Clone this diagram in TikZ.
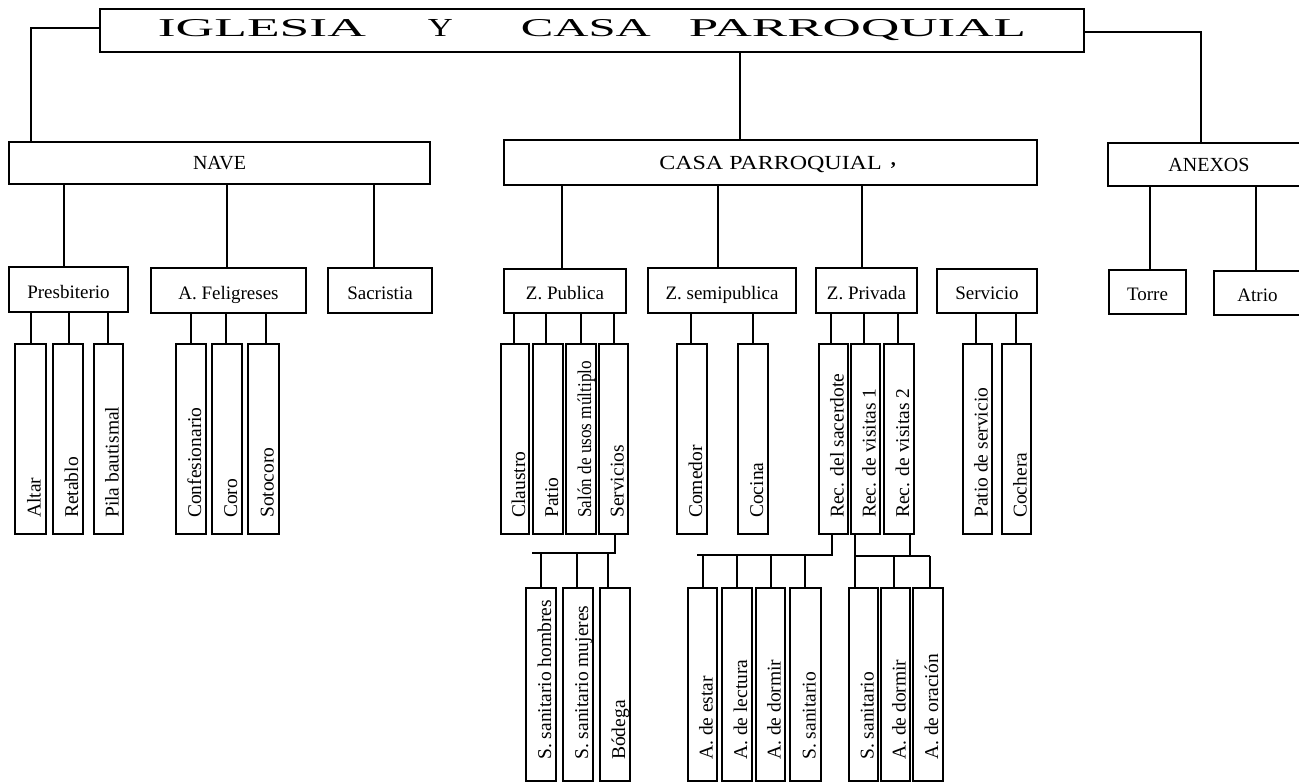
\documentclass[tikz,border=0pt]{standalone}
\usepackage{fontspec}
\usepackage{graphicx}
\setmainfont{Liberation Serif}
\usetikzlibrary{calc}
\tikzset{
  bx/.style={draw, line width=1.2pt, rectangle, inner sep=0pt, outer sep=0pt},
  lvone/.style={bx, font=\fontsize{20}{24}\selectfont, text height=14pt, text depth=0pt},
  lvtwo/.style={bx, font=\fontsize{19}{23}\selectfont, text height=18pt, text depth=0pt},
  vtext/.style={rotate=90, anchor=base west, inner sep=0pt, font=\fontsize{19.5}{23}\selectfont},
  conn/.style={line width=1.1pt},
}
% style name x1 y1 x2 y2 text
\newcommand\hb[7]{\node[#1, minimum width={(#5)-(#3)}, minimum height={(#6)-(#4)}] (#2) at ({((#3)+(#5))/2},{((#4)+(#6))/2}) {#7};}
% name x1 y1 x2 y2 gap text
\newcommand\vb[7]{\hb{bx}{#1}{#2}{#3}{#4}{#5}{}\node[vtext] (#1t) at ($(#1.south)+(10,-#6)$) {#7};}
\begin{document}
\begin{tikzpicture}[x=1pt,y=-1pt]
\fill[white] (0,0) rectangle (1299,783);
\useasboundingbox (0,0) rectangle (1299,783);

% title
\hb{bx}{title}{100}{9}{1084}{52}{\raisebox{2.5pt}{\resizebox{208pt}{17pt}{IGLESIA}\hspace{62pt}\resizebox{25pt}{17pt}{Y}\hspace{68pt}\resizebox{130pt}{17pt}{CASA}\hspace{38pt}\resizebox{337pt}{17pt}{PARROQUIAL}}}

% level 1
\hb{lvone}{nave}{9}{142}{430}{184}{NAVE}
\hb{lvone}{casa}{504}{140}{1037}{185}{\scalebox{1.2}[1]{CASA PARROQUIAL}\rlap{\hspace{9pt}\raisebox{4pt}{\textbf{,}}}}
\hb{lvone}{anexos}{1108}{143}{1310}{186}{ANEXOS}

% level 2
\hb{lvtwo}{presb}{9}{267}{128}{312}{Presbiterio}
\hb{lvtwo}{feli}{151}{268}{306}{313}{A. Feligreses}
\hb{lvtwo}{sacr}{328}{268}{432}{313}{Sacristia}
\hb{lvtwo}{zpub}{504}{269}{626}{313}{Z. Publica}
\hb{lvtwo}{zsemi}{648}{268}{796}{313}{Z. semipublica}
\hb{lvtwo}{zpriv}{816}{268}{917}{313}{Z. Privada}
\hb{lvtwo}{servicio}{937}{269}{1037}{313}{Servicio}
\hb{lvtwo}{torre}{1109}{270}{1186}{314}{Torre}
\hb{lvtwo}{atrio}{1214}{271}{1301}{315}{Atrio}

% level 3
\vb{altar}{15}{344}{46}{534}{16}{Altar}
\vb{retablo}{53}{344}{83}{534}{16}{Retablo}
\vb{pila}{94}{344}{123}{534}{16}{Pila bautismal}
\vb{conf}{176}{344}{206}{534}{16}{Confesionario}
\vb{coro}{212}{344}{242}{534}{16}{Coro}
\vb{soto}{248}{344}{279}{534}{16}{Sotocoro}
\vb{claustro}{501}{344}{529}{534}{16}{Claustro}
\vb{patio}{533}{344}{563}{534}{16}{Patio}
\vb{salon}{566}{344}{596}{534}{16}{\scalebox{0.88}[1]{Salón de usos múltiplo}}
\vb{servicios}{599}{344}{628}{534}{16}{Servicios}
\vb{comedor}{677}{344}{707}{534}{16}{Comedor}
\vb{cocina}{738}{344}{768}{534}{16}{Cocina}
\vb{sacerdote}{819}{344}{848}{534}{16}{Rec. del sacerdote}
\vb{visA}{851}{344}{880}{534}{16}{Rec. de visitas 1}
\vb{visB}{884}{344}{914}{534}{16}{Rec. de visitas 2}
\vb{patioserv}{963}{344}{992}{534}{16}{Patio de servicio}
\vb{cochera}{1002}{344}{1031}{534}{16}{Cochera}

% level 4
\vb{hombres}{526}{588}{556}{781}{21}{S. sanitario hombres}
\vb{mujeres}{563}{588}{593}{781}{21}{S. sanitario mujeres}
\vb{bodega}{600}{588}{630}{781}{21}{Bódega}
\vb{estar}{688}{588}{717}{781}{21}{A. de estar}
\vb{lectura}{722}{588}{752}{781}{21}{A. de lectura}
\vb{dormirA}{756}{588}{785}{781}{21}{A. de dormir}
\vb{sanitA}{790}{588}{821}{781}{21}{S. sanitario}
\vb{sanitB}{849}{588}{878}{781}{21}{S. sanitario}
\vb{dormirB}{881}{588}{910}{781}{21}{A. de dormir}
\vb{oracion}{913}{588}{943}{781}{21}{A. de oración}

% connectors top
\draw[conn] (title.west |- 0,28) -| (nave.north -| 31,0);
\draw[conn] (title.south -| 740,0) -- (casa.north -| 740,0);
\draw[conn] (title.east |- 0,32) -| (anexos.north -| 1201,0);

\foreach \x/\c in {64/presb,227/feli,374/sacr}
  \draw[conn] (nave.south -| \x,0) -- (\c.north -| \x,0);
\foreach \x/\c in {562/zpub,718/zsemi,862/zpriv}
  \draw[conn] (casa.south -| \x,0) -- (\c.north -| \x,0);
\foreach \x/\c in {1150/torre,1256/atrio}
  \draw[conn] (anexos.south -| \x,0) -- (\c.north -| \x,0);

\foreach \x/\c in {31/altar,69/retablo,108/pila}
  \draw[conn] (presb.south -| \x,0) -- (\c.north -| \x,0);
\foreach \x/\c in {191/conf,226/coro,266/soto}
  \draw[conn] (feli.south -| \x,0) -- (\c.north -| \x,0);
\foreach \x/\c in {514/claustro,546/patio,581/salon,614/servicios}
  \draw[conn] (zpub.south -| \x,0) -- (\c.north -| \x,0);
\foreach \x/\c in {691/comedor,753/cocina}
  \draw[conn] (zsemi.south -| \x,0) -- (\c.north -| \x,0);
\foreach \x/\c in {831/sacerdote,864/visA,898/visB}
  \draw[conn] (zpriv.south -| \x,0) -- (\c.north -| \x,0);
\foreach \x/\c in {976/patioserv,1016/cochera}
  \draw[conn] (servicio.south -| \x,0) -- (\c.north -| \x,0);

% buses to level 4
\coordinate (busA) at (532,553);
\draw[conn] (servicios.south -| 615,0) |- (busA);
\foreach \x/\c in {541/hombres,577/mujeres,608/bodega}
  \draw[conn] (\c.north -| \x,0) |- (busA);

\coordinate (busB) at (697,555);
\draw[conn] (sacerdote.south -| 832,0) |- (busB);
\foreach \x/\c in {703/estar,737/lectura,771/dormirA,805/sanitA}
  \draw[conn] (\c.north -| \x,0) |- (busB);

\coordinate (busC) at (930,556);
\draw[conn] (visA.south -| 855,0) |- (busC);
\draw[conn] (visB.south -| 910,0) |- (busC);
\foreach \x/\c in {855/sanitB,894/dormirB,930/oracion}
  \draw[conn] (\c.north -| \x,0) |- (busC);
\end{tikzpicture}
\end{document}
